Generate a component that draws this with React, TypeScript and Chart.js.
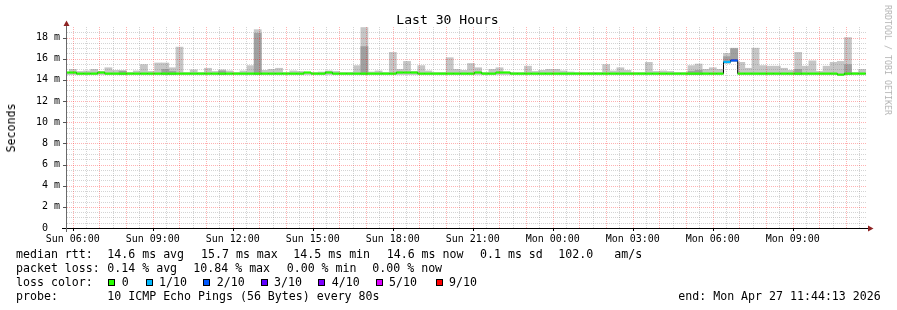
import React, { useEffect, useRef } from 'react';
import { Chart, registerables } from 'chart.js';

Chart.register(...registerables);

const MONO = "'DejaVu Sans Mono', monospace";
const NB = '\u00a0';

// x axis: minutes since the left edge of the graph (30 hours shown)
const SPAN_MINUTES = 1800;
const STEP_MINUTES = 16; // consolidation step of each smoke bar
const FIRST_STEP_MINUTE = 5.1; // first step boundary after graph start
const FIRST_HOUR_MINUTE = 13; // Sun 06:00
const Y_MAX = 19; // milliseconds

const xTickLabels = [
  'Sun 06:00', 'Sun 09:00', 'Sun 12:00', 'Sun 15:00', 'Sun 18:00',
  'Sun 21:00', 'Mon 00:00', 'Mon 03:00', 'Mon 06:00', 'Mon 09:00',
];
const yTickValues = [0, 2, 4, 6, 8, 10, 12, 14, 16, 18];
const yTickLabels = [' 0  ', ' 2 m', ' 4 m', ' 6 m', ' 8 m', '10 m', '12 m', '14 m', '16 m', '18 m'];

// one value per 16-minute step (ms)
const smokeMin = [
  14.5, 14.5, 14.5, 14.5, 14.5, 14.5, 14.5, 14.5, 14.5, 14.5,
  14.5, 14.5, 14.5, 14.5, 14.5, 14.5, 14.5, 14.5, 14.5, 14.5,
  14.5, 14.5, 14.5, 14.5, 14.5, 14.5, 14.5, 14.5, 14.5, 14.5,
  14.5, 14.5, 14.5, 14.5, 14.5, 14.5, 14.5, 14.5, 14.5, 14.5,
  14.5, 14.5, 14.5, 14.5, 14.5, 14.5, 14.5, 14.5, 14.5, 14.5,
  14.5, 14.5, 14.5, 14.5, 14.5, 14.5, 14.5, 14.5, 14.5, 14.5,
  14.5, 14.5, 14.5, 14.5, 14.5, 14.5, 14.5, 14.5, 14.5, 14.5,
  14.5, 14.5, 14.5, 14.5, 14.5, 14.5, 14.5, 14.5, 14.5, 14.5,
  14.5, 14.5, 14.5, 14.5, 14.5, 14.5, 14.5, 14.5, 14.5, 14.5,
  14.5, 14.5, 14.5, 15.6, 15.75, 14.5, 14.5, 14.5, 14.5, 14.5,
  14.5, 14.5, 14.5, 14.5, 14.5, 14.5, 14.5, 14.5, 14.5, 14.5,
  14.5, 14.5, 14.5,
];
const smokeInner = [
  14.5, 14.5, 14.5, 14.5, 14.5, 14.5, 14.5, 14.5, 14.85, 14.5,
  14.5, 14.5, 14.5, 14.5, 15.0, 14.8, 14.5, 14.5, 14.5, 14.5,
  14.5, 14.5, 14.85, 14.5, 14.5, 14.5, 14.5, 18.4, 14.5, 14.5,
  14.5, 14.5, 14.5, 14.5, 14.5, 14.5, 14.5, 14.5, 14.5, 14.5,
  14.5, 14.5, 17.15, 14.5, 14.5, 14.5, 14.5, 14.5, 14.5, 14.5,
  14.5, 14.5, 14.5, 14.5, 14.5, 14.5, 14.5, 14.5, 14.5, 14.5,
  14.5, 14.5, 14.5, 14.5, 14.5, 14.5, 14.5, 14.5, 14.5, 14.5,
  14.5, 14.5, 14.5, 14.5, 14.5, 14.5, 14.5, 14.5, 14.5, 14.5,
  14.5, 14.5, 14.5, 14.5, 14.5, 14.5, 14.5, 14.5, 14.8, 14.9,
  14.5, 14.5, 14.5, 16.2, 16.95, 14.5, 14.5, 14.5, 14.5, 14.5,
  14.5, 14.5, 14.5, 15.0, 14.5, 14.5, 14.5, 14.5, 14.5, 14.5,
  15.45, 14.5, 14.5,
];
const smokeMax = [
  14.7, 15.0, 14.8, 14.85, 15.0, 14.8, 15.15, 14.9, 14.85, 14.7,
  14.85, 15.45, 14.8, 15.6, 15.6, 15.15, 17.1, 14.7, 14.95, 14.7,
  15.1, 14.8, 14.95, 14.85, 14.7, 14.85, 15.35, 18.75, 14.9, 15.0,
  15.1, 14.7, 14.85, 14.8, 14.7, 14.7, 14.75, 14.85, 14.8, 14.7,
  14.7, 15.35, 18.95, 14.75, 14.85, 14.7, 16.6, 15.0, 15.75, 14.8,
  15.35, 14.85, 14.7, 14.7, 16.1, 15.0, 14.9, 15.55, 15.15, 14.7,
  15.0, 15.15, 14.75, 14.7, 14.7, 15.3, 14.8, 14.9, 15.0, 15.0,
  14.85, 14.75, 14.7, 14.7, 14.7, 14.7, 15.45, 14.85, 15.15, 14.9,
  14.7, 14.7, 15.66, 14.8, 14.85, 14.8, 14.7, 14.7, 15.35, 15.5,
  15.0, 15.15, 15.0, 16.5, 17.0, 15.66, 15.1, 17.0, 15.35, 15.3,
  15.3, 15.1, 14.9, 16.6, 15.3, 15.8, 14.8, 15.3, 15.66, 15.75,
  18.0, 14.7, 15.0,
];
const median = [
  14.7, 14.7, 14.6, 14.6, 14.6, 14.7, 14.6, 14.6, 14.6, 14.6,
  14.6, 14.6, 14.6, 14.6, 14.6, 14.6, 14.6, 14.6, 14.6, 14.6,
  14.6, 14.6, 14.6, 14.6, 14.6, 14.6, 14.6, 14.6, 14.6, 14.6,
  14.6, 14.6, 14.6, 14.6, 14.7, 14.6, 14.6, 14.7, 14.6, 14.6,
  14.6, 14.6, 14.6, 14.6, 14.6, 14.6, 14.6, 14.7, 14.7, 14.7,
  14.6, 14.6, 14.6, 14.6, 14.6, 14.6, 14.6, 14.6, 14.7, 14.6,
  14.6, 14.7, 14.7, 14.6, 14.6, 14.6, 14.6, 14.6, 14.6, 14.6,
  14.6, 14.6, 14.6, 14.6, 14.6, 14.6, 14.6, 14.6, 14.6, 14.6,
  14.6, 14.6, 14.6, 14.6, 14.6, 14.6, 14.6, 14.6, 14.6, 14.6,
  14.6, 14.6, 14.6, 15.7, 15.85, 14.6, 14.6, 14.6, 14.6, 14.6,
  14.6, 14.6, 14.6, 14.6, 14.6, 14.6, 14.6, 14.6, 14.6, 14.5,
  14.6, 14.6, 14.6,
];
// lost pings out of 10 per step -> index into lossColors
const lossIndex = [
  0, 0, 0, 0, 0, 0, 0, 0, 0, 0,
  0, 0, 0, 0, 0, 0, 0, 0, 0, 0,
  0, 0, 0, 0, 0, 0, 0, 0, 0, 0,
  0, 0, 0, 0, 0, 0, 0, 0, 0, 0,
  0, 0, 0, 0, 0, 0, 0, 0, 0, 0,
  0, 0, 0, 0, 0, 0, 0, 0, 0, 0,
  0, 0, 0, 0, 0, 0, 0, 0, 0, 0,
  0, 0, 0, 0, 0, 0, 0, 0, 0, 0,
  0, 0, 0, 0, 0, 0, 0, 0, 0, 0,
  0, 0, 0, 1, 2, 0, 0, 0, 0, 0,
  0, 0, 0, 0, 0, 0, 0, 0, 0, 0,
  0, 0, 0,
];

const lossColors = ['#26ff00', '#00b8ff', '#0059ff', '#5e00ff', '#7e00ff', '#dd00ff', '#ff0000'];
const lossLabels = ['0', '1/10', '2/10', '3/10', '4/10', '5/10', '9/10'];

const rowTitles = ['median rtt:', 'packet loss:', 'loss color:', 'probe:'];
const rttStats = ['14.6 ms avg', '15.7 ms max', '14.5 ms min', '14.6 ms now', '0.1 ms sd', '102.0', 'am/s'];
const lossStats = ['0.14 % avg', '10.84 % max', '0.00 % min', '0.00 % now'];
const probeText = '10 ICMP Echo Pings (56 Bytes) every 80s';
const endText = 'end: Mon Apr 27 11:44:13 2026';
const titleText = 'Last 30 Hours';
const yAxisTitle = 'Seconds';
const watermark = 'RRDTOOL / TOBI OETIKER';

// layout of the text block (pixels)
const ROW_TOPS = [246.7, 260.7, 274.7, 288.7];
const RTT_X = [107.3, 201, 293.3, 386.7, 480, 558.3, 614.3];
const LOSS_X = [107.3, 193.3, 286.7, 372.3];
const BOX_X = [108.3, 145.7, 203.3, 260.7, 318.3, 375.7, 435.7];
const BOX_LABEL_X = [121.7, 159, 216.7, 274, 331.7, 389, 449];

const MINOR_GRID = 'rgba(120,120,120,0.32)';
const MAJOR_GRID = 'rgba(255,0,0,0.3)';

const rrdGrid = {
  id: 'rrdGrid',
  afterDatasetsDraw(chart: any) {
    const { ctx, chartArea: a, scales } = chart;
    const xs = scales.x;
    const ys = scales.y;
    const xMinor: number[] = [];
    const xMajor: number[] = [];
    for (let j = 0; ; j++) {
      const t = FIRST_HOUR_MINUTE + 30 * j;
      if (t > SPAN_MINUTES) break;
      (j % 2 === 0 ? xMajor : xMinor).push(t);
    }
    const yMinor: number[] = [];
    const yMajor: number[] = [];
    for (let v = 0.5; v < Y_MAX; v += 0.5) (v % 2 === 0 ? yMajor : yMinor).push(v);

    ctx.save();
    ctx.lineWidth = 1;
    ctx.setLineDash([1, 1]);
    const vline = (t: number) => {
      const px = Math.round(xs.getPixelForValue(t)) + 0.5;
      ctx.beginPath();
      ctx.moveTo(px, a.top);
      ctx.lineTo(px, a.bottom);
      ctx.stroke();
    };
    const hline = (v: number) => {
      const py = Math.round(ys.getPixelForValue(v)) + 0.5;
      ctx.beginPath();
      ctx.moveTo(a.left, py);
      ctx.lineTo(a.right, py);
      ctx.stroke();
    };
    ctx.strokeStyle = MINOR_GRID;
    xMinor.forEach(vline);
    yMinor.forEach(hline);
    ctx.strokeStyle = MAJOR_GRID;
    xMajor.forEach(vline);
    yMajor.forEach(hline);
    ctx.setLineDash([]);

    // axes
    const ax = a.left - 0.5;
    const ay = a.bottom + 0.5;
    ctx.strokeStyle = '#000';
    ctx.beginPath();
    ctx.moveTo(a.left - 5, ay);
    ctx.lineTo(a.right + 1, ay);
    ctx.stroke();
    ctx.strokeStyle = '#6a6a6a';
    ctx.beginPath();
    ctx.moveTo(ax, a.bottom + 4);
    ctx.lineTo(ax, a.top - 1);
    ctx.stroke();
    // small ticks
    ctx.strokeStyle = '#555';
    yTickValues.forEach((v) => {
      if (v === 0) return;
      const py = Math.round(ys.getPixelForValue(v)) + 0.5;
      ctx.beginPath();
      ctx.moveTo(a.left - 4, py);
      ctx.lineTo(a.left, py);
      ctx.stroke();
    });
    ctx.strokeStyle = '#000';
    xTickLabels.forEach((_, j) => {
      const px = Math.round(xs.getPixelForValue(FIRST_HOUR_MINUTE + 180 * j)) + 0.5;
      ctx.beginPath();
      ctx.moveTo(px, a.bottom);
      ctx.lineTo(px, a.bottom + 3);
      ctx.stroke();
    });
    // arrows
    ctx.fillStyle = '#8e2323';
    ctx.beginPath();
    ctx.moveTo(a.right + 1, ay - 3);
    ctx.lineTo(a.right + 6.5, ay);
    ctx.lineTo(a.right + 1, ay + 3);
    ctx.closePath();
    ctx.fill();
    ctx.beginPath();
    ctx.moveTo(ax - 3, a.top - 1);
    ctx.lineTo(ax, a.top - 6.5);
    ctx.lineTo(ax + 3, a.top - 1);
    ctx.closePath();
    ctx.fill();
    ctx.restore();
  },
};

const textBase: React.CSSProperties = {
  position: 'absolute',
  fontFamily: MONO,
  fontSize: '11.6px',
  lineHeight: '14px',
  whiteSpace: 'pre',
  color: '#000',
  margin: 0,
};

export default function App() {
  const canvasRef = useRef<HTMLCanvasElement>(null);

  useEffect(() => {
    const canvas = canvasRef.current;
    if (!canvas) return;
    const stepStart = (i: number) => FIRST_STEP_MINUTE + STEP_MINUTES * (i - 1);
    const centers = smokeMax.map((_, i) => stepStart(i) + STEP_MINUTES / 2);

    const barCommon = {
      type: 'bar' as const,
      grouped: false,
      barPercentage: 1,
      categoryPercentage: 1,
      borderWidth: 0,
      clip: 0,
    };

    const medianSteps = median.map((m, i) => ({ x: stepStart(i), y: m }));
    medianSteps.push({ x: stepStart(median.length), y: median[median.length - 1] });

    const chart = new Chart(canvas, {
      type: 'bar',
      data: {
        datasets: [
          {
            ...barCommon,
            label: 'smoke outer',
            data: centers.map((x, i) => ({ x, y: [smokeMin[i], smokeMax[i]] })) as any,
            backgroundColor: '#c6c6c6',
            order: 4,
          },
          {
            ...barCommon,
            label: 'smoke inner',
            data: centers.map((x, i) => ({
              x,
              y: smokeInner[i] > smokeMin[i] ? [smokeMin[i], smokeInner[i]] : null,
            })) as any,
            backgroundColor: '#a0a0a0',
            order: 3,
          },
          {
            type: 'line' as const,
            label: 'median',
            data: medianSteps as any,
            stepped: 'before',
            borderColor: '#000',
            borderWidth: 1,
            pointRadius: 0,
            clip: 0,
            order: 2,
          } as any,
          {
            ...barCommon,
            label: 'median loss',
            data: centers.map((x, i) => ({ x, y: [median[i] - 0.11, median[i] + 0.1] })) as any,
            backgroundColor: median.map((_, i) => lossColors[lossIndex[i]]),
            inflateAmount: 0,
            order: 1,
          },
        ],
      },
      options: {
        responsive: false,
        animation: false,
        devicePixelRatio: 1,
        events: [],
        layout: { padding: { left: 0, top: 27, right: 30, bottom: 0 } },
        plugins: {
          legend: { display: false },
          title: { display: false },
          tooltip: { enabled: false },
        },
        scales: {
          x: {
            type: 'linear',
            min: 0,
            max: SPAN_MINUTES,
            offset: false,
            grid: { display: false, drawTicks: false, offset: false },
            border: { display: false },
            afterBuildTicks: (s: any) => {
              s.ticks = xTickLabels.map((_, j) => ({ value: FIRST_HOUR_MINUTE + 180 * j }));
            },
            afterFit: (s: any) => {
              s.height = 82;
            },
            ticks: {
              autoSkip: false,
              maxRotation: 0,
              minRotation: 0,
              padding: 5,
              color: '#000',
              font: { family: MONO, size: 10 },
              callback: (_v: any, i: number) => xTickLabels[i],
            },
          },
          y: {
            type: 'linear',
            min: 0,
            max: Y_MAX,
            grid: { display: false, drawTicks: false },
            border: { display: false },
            afterBuildTicks: (s: any) => {
              s.ticks = yTickValues.map((v) => ({ value: v }));
            },
            afterFit: (s: any) => {
              s.width = 67;
            },
            ticks: {
              padding: 7,
              color: '#000',
              font: { family: MONO, size: 10 },
              callback: (_v: any, i: number) => yTickLabels[i].replace(/ /g, NB),
            },
          },
        },
      } as any,
      plugins: [rrdGrid],
    });
    return () => chart.destroy();
  }, []);

  return (
    <div style={{ position: 'absolute', left: 0, top: 0, width: 897, height: 310, background: '#fff', overflow: 'hidden' }}>
      <canvas ref={canvasRef} width={897} height={310} style={{ position: 'absolute', left: 0, top: 0, width: 897, height: 310 }} />
      <div
        style={{
          ...textBase,
          fontSize: '13.1px',
          lineHeight: '16px',
          left: 447.5,
          top: 20,
          transform: 'translate(-50%, -50%)',
        }}
      >
        {titleText}
      </div>
      <div
        style={{
          ...textBase,
          left: 11,
          top: 127.5,
          transform: 'translate(-50%, -50%) rotate(-90deg)',
        }}
      >
        {yAxisTitle}
      </div>
      <div
        style={{
          ...textBase,
          fontSize: '8.3px',
          lineHeight: '10px',
          color: '#b4b4b4',
          left: 888,
          top: 60,
          transform: 'translate(-50%, -50%) rotate(90deg)',
        }}
      >
        {watermark}
      </div>

      {rowTitles.map((t, r) => (
        <div key={t} style={{ ...textBase, left: 16, top: ROW_TOPS[r] }}>{t}</div>
      ))}
      {rttStats.map((t, i) => (
        <div key={'rtt' + i} style={{ ...textBase, left: RTT_X[i], top: ROW_TOPS[0] }}>{t}</div>
      ))}
      {lossStats.map((t, i) => (
        <div key={'loss' + i} style={{ ...textBase, left: LOSS_X[i], top: ROW_TOPS[1] }}>{t}</div>
      ))}
      {lossLabels.map((t, i) => (
        <React.Fragment key={'lc' + i}>
          <div
            style={{
              position: 'absolute',
              left: BOX_X[i],
              top: ROW_TOPS[2] + 3.8,
              width: 7,
              height: 7,
              boxSizing: 'border-box',
              border: '1px solid #000',
              background: lossColors[i],
            }}
          />
          <div style={{ ...textBase, left: BOX_LABEL_X[i], top: ROW_TOPS[2] }}>{t}</div>
        </React.Fragment>
      ))}
      <div style={{ ...textBase, left: 107.3, top: ROW_TOPS[3] }}>{probeText}</div>
      <div style={{ ...textBase, left: 678.3, top: ROW_TOPS[3] }}>{endText}</div>
    </div>
  );
}
